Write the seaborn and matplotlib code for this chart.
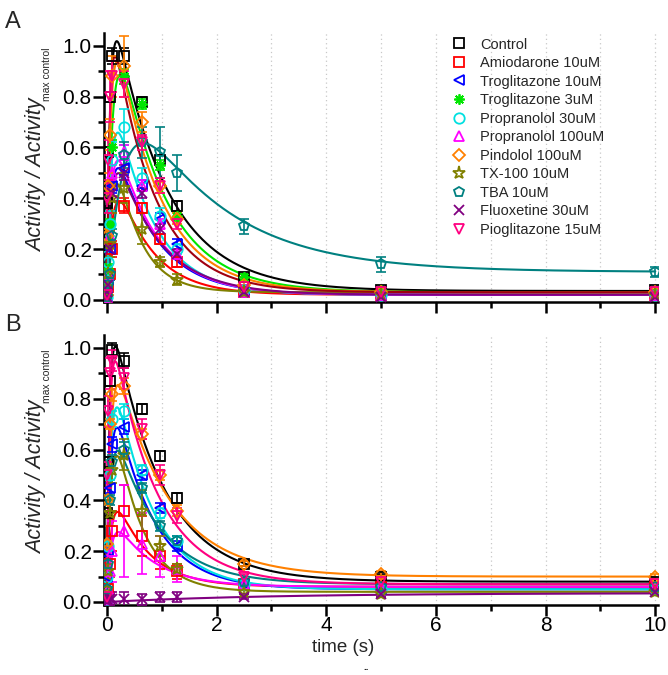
import numpy as np
import pandas as pd
import matplotlib
matplotlib.use("Agg")
import matplotlib.pyplot as plt
from matplotlib.lines import Line2D
import seaborn as sns

sns.set_theme(style="ticks")
plt.rcParams['font.family'] = ['Liberation Sans', 'DejaVu Sans']

# ---------------- data ----------------
names = ["Control", "Amiodarone 10uM", "Troglitazone 10uM", "Troglitazone 3uM",
         "Propranolol 30uM", "Propranolol 100uM", "Pindolol 100uM", "TX-100 10uM",
         "TBA 10uM", "Fluoxetine 30uM", "Pioglitazone 15uM"]
colors = ["#000000", "#ff0000", "#0000ff", "#00e600", "#00e0e0", "#ff00ff",
          "#ff8000", "#808000", "#008080", "#800080", "#ff0080"]
markers = ["s", "s", "<", (8, 2, 0), "o", "^", "D", "*", "p", "x", "v"]

times = [0, 0.01, 0.02, 0.05, 0.1, 0.32, 0.64, 0.96, 1.28, 2.5, 5, 10]

# panel A measured points
a_control = [0.02, 0.38, 0.58, 0.80, 0.96, 0.96, 0.78, 0.55, 0.37, 0.09, 0.04, 0.04]
a_amio    = [0.01, 0.03, 0.05, 0.10, 0.20, 0.37, 0.36, 0.24, 0.15, 0.03, 0.02, 0.02]
a_trog10  = [0.01, 0.04, 0.08, 0.20, 0.45, 0.52, 0.45, 0.32, 0.22, 0.04, 0.02, 0.03]
a_trog3   = [0.02, 0.05, 0.12, 0.30, 0.60, 0.88, 0.77, 0.53, 0.33, 0.09, 0.04, 0.03]
a_prop30  = [0.01, 0.08, 0.15, 0.30, 0.55, 0.68, 0.48, 0.33, 0.20, 0.04, 0.02, 0.02]
a_prop100 = [0.01, 0.05, 0.10, 0.25, 0.50, 0.58, 0.45, 0.30, 0.18, 0.03, 0.02, 0.02]
a_pind    = [0.02, 0.25, 0.45, 0.65, 0.88, 0.92, 0.70, 0.45, 0.32, 0.06, 0.03, 0.03]
a_tx      = [0.01, 0.05, 0.10, 0.22, 0.40, 0.44, 0.28, 0.15, 0.08, 0.03, 0.02, 0.02]
a_tba     = [0.01, 0.03, 0.06, 0.10, 0.25, 0.57, 0.62, 0.58, 0.50, 0.29, 0.14, 0.11]
a_fluox   = [0.01, 0.03, 0.06, 0.20, 0.42, 0.50, 0.42, 0.28, 0.18, 0.03, 0.01, 0.01]
a_pio     = [0.02, 0.40, 0.55, 0.80, 0.88, 0.85, 0.62, 0.45, 0.30, 0.05, 0.03, 0.03]
a_vals = [a_control, a_amio, a_trog10, a_trog3, a_prop30, a_prop100, a_pind, a_tx,
          a_tba, a_fluox, a_pio]

a_err_small = [0.0, 0.01, 0.02, 0.02, 0.03, 0.03, 0.02, 0.02, 0.02, 0.01, 0.01, 0.01]
a_err_tba   = [0.0, 0.01, 0.01, 0.02, 0.03, 0.05, 0.06, 0.10, 0.07, 0.03, 0.03, 0.02]
a_err_pind  = [0.0, 0.03, 0.05, 0.06, 0.08, 0.12, 0.04, 0.03, 0.02, 0.01, 0.01, 0.01]
a_err_prop  = [0.0, 0.03, 0.04, 0.05, 0.07, 0.07, 0.04, 0.03, 0.02, 0.01, 0.01, 0.01]
a_err_pio   = [0.0, 0.06, 0.08, 0.10, 0.06, 0.05, 0.03, 0.03, 0.02, 0.01, 0.01, 0.01]
a_err_tx    = [0.0, 0.02, 0.03, 0.05, 0.06, 0.06, 0.06, 0.02, 0.02, 0.01, 0.01, 0.01]
a_errs = [a_err_small, a_err_small, a_err_small, a_err_small, a_err_prop, a_err_small,
          a_err_pind, a_err_tx, a_err_tba, a_err_small, a_err_pio]

# panel A fit parameters: peak, rise tau, decay tau, plateau
a_peak = [1.02, 0.39, 0.52, 0.89, 0.66, 0.55, 0.94, 0.46, 0.63, 0.50, 0.96]
a_rise = [0.06, 0.10, 0.08, 0.10, 0.08, 0.08, 0.07, 0.09, 0.30, 0.08, 0.05]
a_decay = [0.95, 0.65, 0.75, 0.85, 0.70, 0.75, 0.80, 0.45, 1.60, 0.80, 0.75]
a_plat = [0.035, 0.02, 0.02, 0.03, 0.02, 0.02, 0.03, 0.03, 0.11, 0.02, 0.03]
a_linecolors = colors[:10] + ["#a00010"]

# panel B measured points (Troglitazone 3uM not shown)
b_control = [0.02, 0.35, 0.55, 0.87, 0.99, 0.95, 0.76, 0.575, 0.41, 0.15, 0.10, 0.08]
b_amio    = [0.01, 0.02, 0.05, 0.15, 0.28, 0.36, 0.26, 0.18, 0.12, 0.07, 0.06, 0.06]
b_trog10  = [0.01, 0.10, 0.20, 0.45, 0.62, 0.69, 0.50, 0.37, 0.22, 0.07, 0.05, 0.05]
b_trog3   = None
b_prop30  = [0.01, 0.10, 0.22, 0.50, 0.72, 0.75, 0.52, 0.35, 0.24, 0.07, 0.05, 0.05]
b_prop100 = [0.01, 0.02, 0.05, 0.12, 0.20, 0.28, 0.23, 0.18, 0.13, 0.07, 0.06, 0.06]
b_pind    = [0.02, 0.23, 0.40, 0.70, 0.82, 0.85, 0.66, 0.50, 0.36, 0.15, 0.11, 0.10]
b_tx      = [0.01, 0.05, 0.12, 0.35, 0.52, 0.58, 0.36, 0.22, 0.13, 0.04, 0.03, 0.04]
b_tba     = [0.01, 0.05, 0.15, 0.40, 0.55, 0.60, 0.45, 0.30, 0.24, 0.08, 0.06, 0.06]
b_fluox   = [0.00, 0.01, 0.005, 0.01, 0.01, 0.01, 0.01, 0.02, 0.02, 0.02, 0.03, 0.04]
b_pio     = [0.02, 0.50, 0.75, 0.90, 0.95, 0.88, 0.68, 0.50, 0.34, 0.10, 0.08, 0.07]
b_vals = [b_control, b_amio, b_trog10, b_trog3, b_prop30, b_prop100, b_pind, b_tx,
          b_tba, b_fluox, b_pio]

b_err_small = [0.0, 0.01, 0.02, 0.02, 0.03, 0.03, 0.02, 0.02, 0.02, 0.01, 0.01, 0.01]
b_err_amio  = [0.0, 0.01, 0.02, 0.05, 0.08, 0.10, 0.08, 0.05, 0.03, 0.01, 0.01, 0.01]
b_err_p100  = [0.0, 0.02, 0.05, 0.08, 0.12, 0.18, 0.12, 0.08, 0.05, 0.02, 0.02, 0.02]
b_err_tx    = [0.0, 0.02, 0.03, 0.05, 0.05, 0.06, 0.08, 0.04, 0.02, 0.01, 0.01, 0.01]
b_err_pio   = [0.0, 0.05, 0.06, 0.06, 0.04, 0.04, 0.04, 0.04, 0.03, 0.01, 0.01, 0.01]
b_errs = [b_err_small, b_err_amio, b_err_small, None, b_err_small, b_err_p100,
          b_err_small, b_err_tx, b_err_small, b_err_small, b_err_pio]

b_peak = [1.01, 0.36, 0.69, None, 0.77, 0.28, 0.86, 0.58, 0.60, 0.0, 0.95]
b_rise = [0.05, 0.08, 0.07, None, 0.07, 0.08, 0.07, 0.08, 0.07, 3.0, 0.05]
b_decay = [0.90, 0.60, 0.70, None, 0.70, 0.70, 0.95, 0.50, 0.80, 1.0, 0.80]
b_plat = [0.08, 0.06, 0.05, None, 0.05, 0.06, 0.10, 0.04, 0.07, 0.035, 0.07]
b_linecolors = colors

xtick_vals = [0, 2, 4, 6, 8, 10]
ytick_vals = [0.0, 0.2, 0.4, 0.6, 0.8, 1.0]
ytick_labels = ["0.0", "0.2", "0.4", "0.6", "0.8", "1.0"]


def fit_curve(t, peak, tr, td, c):
    base = c * (1 - np.exp(-t / tr))
    if peak <= 0:
        return base
    shape = np.exp(-t / td) - np.exp(-t / tr)
    amp = (peak - c) / shape.max()
    return amp * shape + base


tgrid = np.linspace(0, 10, 2001)

fig = plt.figure(figsize=(6.68, 6.75), dpi=100)
axA = fig.add_axes([0.156, 0.552, 0.829, 0.399])
axB = fig.add_axes([0.156, 0.1044, 0.829, 0.399])


def marker_size(m):
    if m == "*":
        return 9.5
    if m == "D":
        return 6.5
    return 7.5


def draw(ax, vals, errs, peaks, rises, decays, plats, lcols):
    rows = []
    for i in range(len(names)):
        if peaks[i] is None:
            continue
        y = fit_curve(tgrid, peaks[i], rises[i], decays[i], plats[i])
        rows.append(pd.DataFrame({"t": tgrid, "y": y, "s": names[i]}))
    df = pd.concat(rows)
    pal = {names[i]: lcols[i] for i in range(len(names))}
    sns.lineplot(data=df, x="t", y="y", hue="s", palette=pal, ax=ax,
                 legend=False, linewidth=1.5, estimator=None, sort=False)
    for i in range(len(names)):
        if vals[i] is None:
            continue
        m = markers[i]
        filled = m in ("x", (8, 2, 0))
        ax.errorbar(times, vals[i], yerr=errs[i], fmt="none", ecolor=colors[i],
                    elinewidth=1.2, capsize=3.5, capthick=1.2, zorder=3)
        ax.plot(times, vals[i], linestyle="none", marker=m, markersize=marker_size(m),
                markerfacecolor=(colors[i] if filled else "none"),
                markeredgecolor=colors[i], markeredgewidth=1.3, zorder=4)


draw(axA, a_vals, a_errs, a_peak, a_rise, a_decay, a_plat, a_linecolors)
draw(axB, b_vals, b_errs, b_peak, b_rise, b_decay, b_plat, b_linecolors)

for ax in (axA, axB):
    ax.set_xlim(-0.05, 10.05)
    ax.set_ylim(-0.01, 1.05)
    ax.set_xticks(xtick_vals)
    ax.set_xticks([1, 3, 5, 7, 9], minor=True)
    ax.set_yticks(ytick_vals)
    ax.set_yticks([0.1, 0.3, 0.5, 0.7, 0.9], minor=True)
    ax.set_yticklabels(ytick_labels)
    for xg in range(1, 11):
        ax.axvline(xg, color="#c8c8c8", linestyle=(0, (1, 2.5)), linewidth=0.9, zorder=0)
    sns.despine(ax=ax)
    for sp in ("left", "bottom"):
        ax.spines[sp].set_linewidth(1.8)
        ax.spines[sp].set_color("black")
    ax.tick_params(which="major", length=8, width=1.8, direction="out",
                   labelsize=15, colors="black", pad=1)
    ax.tick_params(which="minor", length=4.5, width=1.8, direction="out", colors="black")
    ax.set_ylabel("")
    ax.set_xlabel("")

axA.tick_params(axis="x", labelbottom=False)
axB.tick_params(axis="x", pad=0)
axB.set_xlabel("time (s)", fontsize=13.5)
axB.xaxis.set_label_coords(0.432, -0.128)

# y-axis labels: main italic text with small subscript
for ycen_main, ycen_sub in ((175, 74), (477, 376)):
    fig.text(37 / 668, 1 - ycen_main / 675, "Activity / Activity", rotation=90,
             fontsize=15.5, style="italic", ha="center", va="center")
    fig.text(47 / 668, 1 - ycen_sub / 675, "max control", rotation=90,
             fontsize=7.5, ha="center", va="center")

handles = []
for i in range(len(names)):
    m = markers[i]
    filled = m in ("x", (8, 2, 0))
    handles.append(Line2D([], [], linestyle="none", marker=m, markersize=marker_size(m),
                          markerfacecolor=(colors[i] if filled else "none"),
                          markeredgecolor=colors[i], markeredgewidth=1.3,
                          label=names[i]))
axA.legend(handles=handles, loc="upper left", bbox_to_anchor=(0.615, 1.005),
           frameon=False, fontsize=10.5, labelspacing=0.31, handletextpad=0.8,
           handlelength=1.2, borderaxespad=0)

fig.text(0.008, 0.968, "A", fontsize=17, ha="left", va="center")
fig.text(0.008, 0.518, "B", fontsize=17, ha="left", va="center")
fig.text(0.548, 0.007, "..", fontsize=7, ha="center", va="baseline", fontweight="bold")

fig.savefig("out.png", dpi=100)
